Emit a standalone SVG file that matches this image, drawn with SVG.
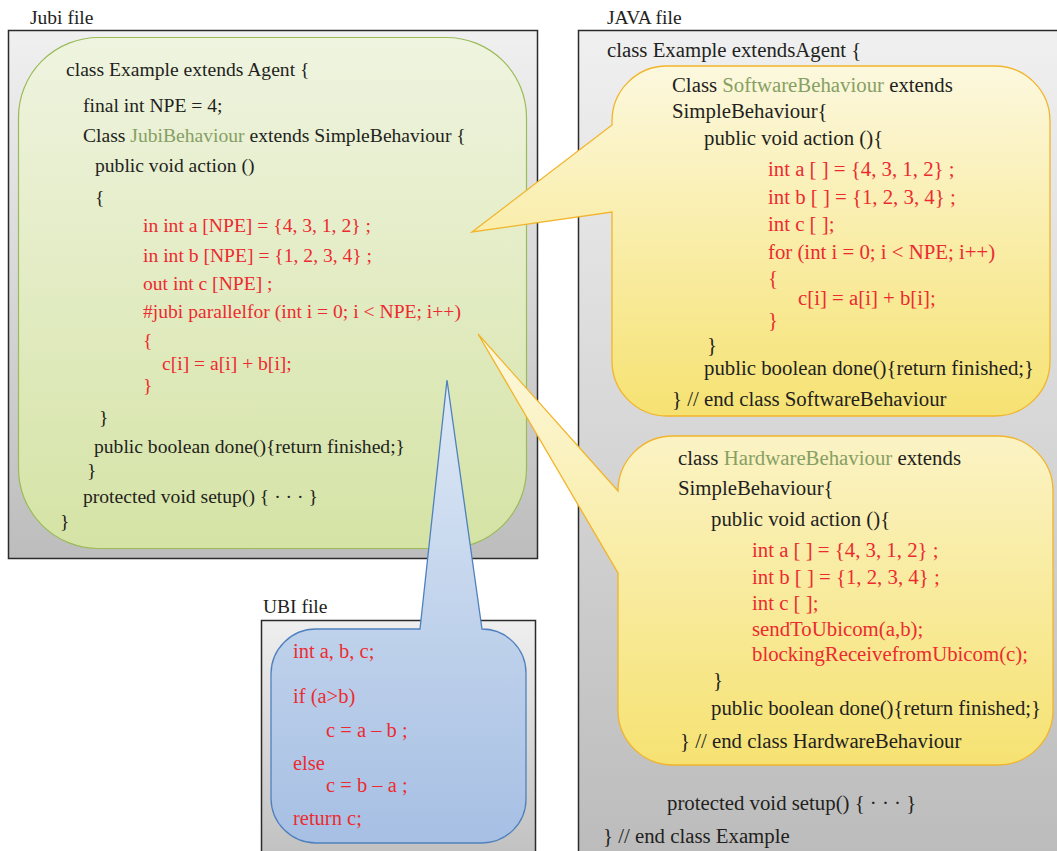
<svg xmlns="http://www.w3.org/2000/svg" width="1057" height="851" viewBox="0 0 1057 851">
  <style>
    text { font-family: "Liberation Serif", "Times New Roman", serif; fill: #231f20; }
    .lbl { font-size: 19.5px; }
    .jb { font-size: 19.6px; }
    .jv { font-size: 20.8px; }
    .ub { font-size: 20.5px; }
    .red { fill: #ec2b30; }
    .cls { fill: #86a064; }
    .frame { stroke: #2b2b2b; stroke-width: 1.5; }
  </style>
  <defs>
    <linearGradient id="grayJubi" gradientUnits="userSpaceOnUse" x1="0" y1="30" x2="0" y2="558">
      <stop offset="0" stop-color="#f0f0f0"/>
      <stop offset="1" stop-color="#bdbdbd"/>
    </linearGradient>
    <linearGradient id="grayJava" gradientUnits="userSpaceOnUse" x1="0" y1="30" x2="0" y2="851">
      <stop offset="0" stop-color="#f0f0f0"/>
      <stop offset="1" stop-color="#bcbcbc"/>
    </linearGradient>
    <linearGradient id="grayUbi" gradientUnits="userSpaceOnUse" x1="0" y1="620" x2="0" y2="851">
      <stop offset="0" stop-color="#efefef"/>
      <stop offset="1" stop-color="#c2c2c2"/>
    </linearGradient>
    <linearGradient id="green" gradientUnits="userSpaceOnUse" x1="0" y1="37" x2="0" y2="549">
      <stop offset="0" stop-color="#eff4e0"/>
      <stop offset="1" stop-color="#d5e3a5"/>
    </linearGradient>
    <linearGradient id="yellowSw" gradientUnits="userSpaceOnUse" x1="0" y1="66" x2="0" y2="416">
      <stop offset="0" stop-color="#fcf8de"/>
      <stop offset="1" stop-color="#f6e272"/>
    </linearGradient>
    <linearGradient id="yellowHw" gradientUnits="userSpaceOnUse" x1="0" y1="334" x2="0" y2="765">
      <stop offset="0" stop-color="#fcf8de"/>
      <stop offset="1" stop-color="#f6e272"/>
    </linearGradient>
    <linearGradient id="blue" gradientUnits="userSpaceOnUse" x1="0" y1="380" x2="0" y2="843">
      <stop offset="0" stop-color="#dde8f5"/>
      <stop offset="1" stop-color="#a6bfe3"/>
    </linearGradient>
  </defs>

  <!-- Jubi source file -->
  <g id="jubi-file">
    <text class="lbl" x="30" y="24">Jubi file</text>
    <rect class="frame" x="8.5" y="30.5" width="529" height="528" fill="url(#grayJubi)"/>
  </g>

  <g id="jubi-class">
    <rect x="18.5" y="37.5" width="508" height="511" rx="80" ry="80" fill="url(#green)" stroke="#9bbb59" stroke-width="1.2"/>
    <g class="jb">
      <text x="66" y="76">class Example extends Agent {</text>
      <text x="83" y="112">final int NPE = 4;</text>
      <text x="83" y="142">Class <tspan class="cls">JubiBehaviour</tspan> extends SimpleBehaviour {</text>
      <text x="95" y="172">public void action ()</text>
      <text x="95" y="204">{</text>
      <text class="red" x="143" y="232">in int a [NPE] = {4, 3, 1, 2} ;</text>
      <text class="red" x="143" y="262">in int b [NPE] = {1, 2, 3, 4} ;</text>
      <text class="red" x="143" y="290">out int c [NPE] ;</text>
      <text class="red" x="143" y="318">#jubi parallelfor (int i = 0; i &lt; NPE; i++)</text>
      <text class="red" x="143" y="347">{</text>
      <text class="red" x="162" y="370">c[i] = a[i] + b[i];</text>
      <text class="red" x="143" y="392">}</text>
      <text x="99" y="424">}</text>
      <text x="94" y="453">public boolean done(){return finished;}</text>
      <text x="87" y="477">}</text>
      <text x="83" y="503">protected void setup() { · · · }</text>
      <text x="60" y="528">}</text>
    </g>
  </g>

  <!-- Generated Java file -->
  <g id="java-file">
    <text class="lbl" x="607" y="24">JAVA file</text>
    <rect class="frame" x="578.5" y="30.5" width="490" height="840" fill="url(#grayJava)"/>
    <g class="jv">
      <text x="607" y="57">class Example extendsAgent {</text>
      <text x="667" y="810">protected void setup() { · · · }</text>
      <text x="603" y="843">} // end class Example</text>
    </g>
  </g>

  <!-- Ubicom (UBI) file -->
  <g id="ubi-file">
    <text class="lbl" x="263" y="613">UBI file</text>
    <rect class="frame" x="261.5" y="620.5" width="274" height="250" fill="url(#grayUbi)"/>
  </g>

  <!-- Callouts: each bubble and its pointer form one outline -->
  <g id="software-behaviour">
    <path d="M667 66 H995 A55 55 0 0 1 1050 121 V361 A55 55 0 0 1 995 416 H667 A55 55 0 0 1 612 361 V212 L472 232 L612 125 V121 A55 55 0 0 1 667 66 Z"
          fill="url(#yellowSw)" stroke="#f2b42a" stroke-width="1.3" stroke-linejoin="miter"/>
    <g class="jv">
      <text x="672" y="92">Class <tspan class="cls">SoftwareBehaviour</tspan> extends</text>
      <text x="672" y="118">SimpleBehaviour{</text>
      <text x="704" y="145">public void action (){</text>
      <text class="red" x="768" y="176">int a [ ] = {4, 3, 1, 2} ;</text>
      <text class="red" x="768" y="204">int b [ ] = {1, 2, 3, 4} ;</text>
      <text class="red" x="768" y="231">int c [ ];</text>
      <text class="red" x="768" y="259">for (int i = 0; i &lt; NPE; i++)</text>
      <text class="red" x="768" y="285">{</text>
      <text class="red" x="798" y="305">c[i] = a[i] + b[i];</text>
      <text class="red" x="768" y="327">}</text>
      <text x="707" y="352">}</text>
      <text x="704" y="375">public boolean done(){return finished;}</text>
      <text x="672" y="406">} // end class SoftwareBehaviour</text>
    </g>
  </g>

  <g id="hardware-behaviour">
    <path d="M673 436 H998 A55 55 0 0 1 1053 491 V710 A55 55 0 0 1 998 765 H673 A55 55 0 0 1 618 710 V573 L478 334 L618 491 A55 55 0 0 1 673 436 Z"
          fill="url(#yellowHw)" stroke="#f2b42a" stroke-width="1.3" stroke-linejoin="miter"/>
    <g class="jv">
      <text x="678" y="465">class <tspan class="cls">HardwareBehaviour</tspan> extends</text>
      <text x="678" y="495">SimpleBehaviour{</text>
      <text x="711" y="526">public void action (){</text>
      <text class="red" x="752" y="557">int a [ ] = {4, 3, 1, 2} ;</text>
      <text class="red" x="752" y="584">int b [ ] = {1, 2, 3, 4} ;</text>
      <text class="red" x="752" y="610">int c [ ];</text>
      <text class="red" x="752" y="636">sendToUbicom(a,b);</text>
      <text class="red" x="752" y="661">blockingReceivefromUbicom(c);</text>
      <text x="713" y="687">}</text>
      <text x="711" y="715">public boolean done(){return finished;}</text>
      <text x="680" y="748">} // end class HardwareBehaviour</text>
    </g>
  </g>

  <g id="ubi-code">
    <path d="M316 629 H420 L447 380 L482 629 A44 44 0 0 1 526 673 V799 A44 44 0 0 1 482 843 H316 A45 45 0 0 1 271 798 V674 A45 45 0 0 1 316 629 Z"
          fill="url(#blue)" stroke="#4f81bd" stroke-width="1.3" stroke-linejoin="miter"/>
    <g class="ub">
      <text class="red" x="293" y="658">int a, b, c;</text>
      <text class="red" x="293" y="703">if (a&gt;b)</text>
      <text class="red" x="326" y="737">c = a – b ;</text>
      <text class="red" x="293" y="770">else</text>
      <text class="red" x="326" y="792">c = b – a ;</text>
      <text class="red" x="293" y="825">return c;</text>
    </g>
  </g>
</svg>
